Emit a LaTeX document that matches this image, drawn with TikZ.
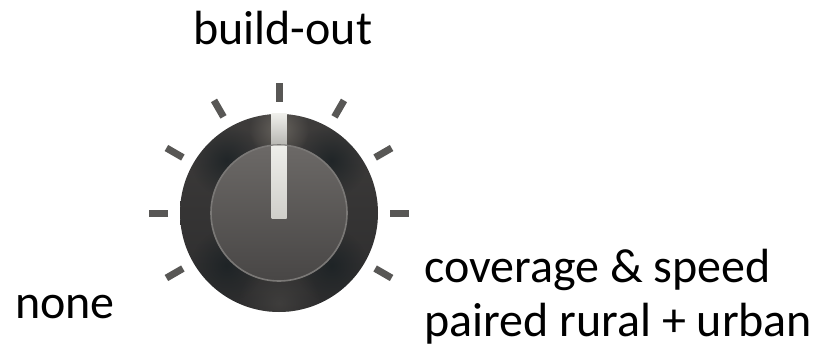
\documentclass[tikz,border=0pt]{standalone}
\usepackage{fontspec}
\setmainfont{Carlito}
\usetikzlibrary{fadings}
\definecolor{TickGray}{RGB}{88,87,85}
\definecolor{RingTop}{RGB}{62,60,59}
\definecolor{RingBottom}{RGB}{44,44,45}
\definecolor{RingDark}{RGB}{26,33,36}
\definecolor{RingGlow}{RGB}{104,100,94}
\definecolor{DiskTop}{RGB}{108,105,103}
\definecolor{DiskBottom}{RGB}{72,70,69}
\definecolor{DiskRim}{RGB}{122,120,118}
\definecolor{PointerTop}{RGB}{238,238,234}
\definecolor{PointerBottom}{RGB}{208,207,202}
\tikzfading[name=spotfade,inner color=transparent!0,outer color=transparent!100]
\tikzset{
    ticklabel/.style={font=\fontsize{36}{36}\selectfont,inner sep=0pt,anchor=base west},
    tickmark/.style={draw=TickGray,line width=5.25pt}
}
\begin{document}
\begin{tikzpicture}[x=0.75pt,y=0.75pt]
    \useasboundingbox (0,0) rectangle (814,347);
    \begin{scope}[shift={(279,134)}]
        % tick marks
        \foreach \a in {-30,0,...,210}
            \draw[tickmark] (\a:111) -- (\a:130);
        % outer ring
        \shade[top color=RingTop,bottom color=RingBottom] (0,0) circle (99);
        \begin{scope}
            \clip (0,0) circle (99);
            \foreach \a in {45,135,225,315}
                \fill[RingDark,opacity=.8,path fading=spotfade] (\a:74) circle (36);
            \fill[RingGlow,path fading=spotfade] (0,84) circle (30);
            \fill[RingGlow,opacity=.3,path fading=spotfade] (0,-90) circle (42);
        \end{scope}
        % pointer over the ring
        \fill[PointerBottom!85!black] (-7.5,68) rectangle (7.5,99);
        \shade[top color=PointerTop,bottom color=PointerBottom!88!black] (-7.5,68) rectangle (7.5,99);
        % inner disk
        \shade[top color=DiskTop,bottom color=DiskBottom,draw=DiskRim,line width=1.2pt] (0,0) circle (68);
        % pointer over the disk
        \begin{scope}
            \clip (0,0) circle (67.5);
            \fill[PointerBottom] (-7.5,-5) rectangle (7.5,68);
            \shade[top color=PointerTop,bottom color=PointerBottom] (-7.5,-5) rectangle (7.5,68);
        \end{scope}
    \end{scope}
    % labels
    \node[ticklabel] (buildout) at (193,302) {build-out};
    \node[ticklabel] (none) at (15,29) {none};
    \node[ticklabel] (coverage) at (424,65) {coverage \& speed};
    \node[ticklabel] (paired) at (424,11) {paired rural + urban};
\end{tikzpicture}
\end{document}
